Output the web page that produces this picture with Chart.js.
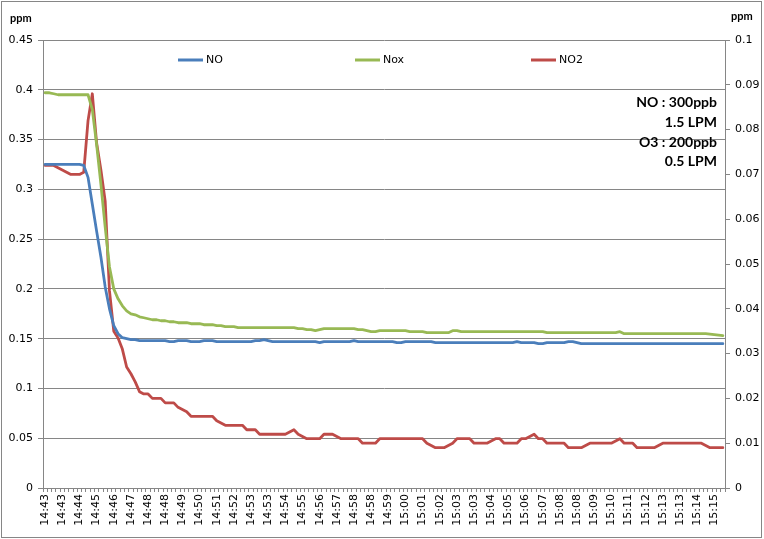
<!DOCTYPE html>
<html>
<head>
<meta charset="utf-8">
<script src="https://cdn.jsdelivr.net/npm/chart.js"></script>
<style>
body { margin: 0; background: #fff; }
#wrap { width: 764px; height: 539px; }
</style>
</head>
<body>
<div id="wrap"><canvas id="chart1" width="764" height="539"></canvas></div>
<script>
// labels shown on the time axis, one every 4 samples
var tickLabels = ['14:43','14:43','14:44','14:45','14:46','14:47','14:48','14:48','14:49','14:50',
  '14:51','14:52','14:53','14:53','14:54','14:55','14:56','14:57','14:58','14:58',
  '14:59','15:00','15:01','15:02','15:03','15:03','15:04','15:05','15:06','15:07',
  '15:08','15:08','15:09','15:10','15:11','15:12','15:13','15:13','15:14','15:15'];

var noValues = [
  0.325,0.325,0.325,0.325,0.325,0.325,0.325,0.325,0.325,0.324,
  0.312,0.285,0.258,0.232,0.202,0.180,0.163,0.155,0.151,0.150,
  0.149,0.149,0.148,0.148,0.148,0.148,0.148,0.148,0.148,0.147,
  0.147,0.148,0.148,0.148,0.147,0.147,0.147,0.148,0.148,0.148,
  0.147,0.147,0.147,0.147,0.147,0.147,0.147,0.147,0.147,0.148,
  0.148,0.149,0.148,0.147,0.147,0.147,0.147,0.147,0.147,0.147,
  0.147,0.147,0.147,0.147,0.146,0.147,0.147,0.147,0.147,0.147,
  0.147,0.147,0.148,0.147,0.147,0.147,0.147,0.147,0.147,0.147,
  0.147,0.147,0.146,0.146,0.147,0.147,0.147,0.147,0.147,0.147,
  0.147,0.146,0.146,0.146,0.146,0.146,0.146,0.146,0.146,0.146,
  0.146,0.146,0.146,0.146,0.146,0.146,0.146,0.146,0.146,0.146,
  0.147,0.146,0.146,0.146,0.146,0.145,0.145,0.146,0.146,0.146,
  0.146,0.146,0.147,0.147,0.146,0.145,0.145,0.145,0.145,0.145,
  0.145,0.145,0.145,0.145,0.145,0.145,0.145,0.145,0.145,0.145,
  0.145,0.145,0.145,0.145,0.145,0.145,0.145,0.145,0.145,0.145,
  0.145,0.145,0.145,0.145,0.145,0.145,0.145,0.145,0.145];

var noxValues = [
  0.397,0.397,0.396,0.395,0.395,0.395,0.395,0.395,0.395,0.395,
  0.395,0.380,0.345,0.305,0.262,0.222,0.200,0.190,0.183,0.178,
  0.175,0.174,0.172,0.171,0.170,0.169,0.169,0.168,0.168,0.167,
  0.167,0.166,0.166,0.166,0.165,0.165,0.165,0.164,0.164,0.164,
  0.163,0.163,0.162,0.162,0.162,0.161,0.161,0.161,0.161,0.161,
  0.161,0.161,0.161,0.161,0.161,0.161,0.161,0.161,0.161,0.160,
  0.160,0.159,0.159,0.158,0.159,0.160,0.160,0.160,0.160,0.160,
  0.160,0.160,0.160,0.159,0.159,0.158,0.157,0.157,0.158,0.158,
  0.158,0.158,0.158,0.158,0.158,0.157,0.157,0.157,0.157,0.156,
  0.156,0.156,0.156,0.156,0.156,0.158,0.158,0.157,0.157,0.157,
  0.157,0.157,0.157,0.157,0.157,0.157,0.157,0.157,0.157,0.157,
  0.157,0.157,0.157,0.157,0.157,0.157,0.157,0.156,0.156,0.156,
  0.156,0.156,0.156,0.156,0.156,0.156,0.156,0.156,0.156,0.156,
  0.156,0.156,0.156,0.156,0.157,0.155,0.155,0.155,0.155,0.155,
  0.155,0.155,0.155,0.155,0.155,0.155,0.155,0.155,0.155,0.155,
  0.155,0.155,0.155,0.155,0.155,0.1545,0.154,0.1535,0.153];

// NO2 is read on the right hand axis
var no2Values = [
  0.072,0.072,0.072,0.0715,0.071,0.0705,0.070,0.070,0.070,0.0705,
  0.082,0.088,0.077,0.071,0.064,0.044,0.035,0.0335,0.031,0.027,
  0.0255,0.0237,0.0215,0.021,0.021,0.020,0.020,0.020,0.019,0.019,
  0.019,0.018,0.0175,0.017,0.016,0.016,0.016,0.016,0.016,0.016,
  0.015,0.0145,0.014,0.014,0.014,0.014,0.014,0.013,0.013,0.013,
  0.012,0.012,0.012,0.012,0.012,0.012,0.012,0.0125,0.013,0.012,
  0.0115,0.011,0.011,0.011,0.011,0.012,0.012,0.012,0.0115,0.011,
  0.011,0.011,0.011,0.011,0.010,0.010,0.010,0.010,0.011,0.011,
  0.011,0.011,0.011,0.011,0.011,0.011,0.011,0.011,0.011,0.010,
  0.0095,0.009,0.009,0.009,0.0095,0.010,0.011,0.011,0.011,0.011,
  0.010,0.010,0.010,0.010,0.0105,0.011,0.011,0.010,0.010,0.010,
  0.010,0.011,0.011,0.0115,0.012,0.011,0.011,0.010,0.010,0.010,
  0.010,0.010,0.009,0.009,0.009,0.009,0.0095,0.010,0.010,0.010,
  0.010,0.010,0.010,0.0105,0.011,0.010,0.010,0.010,0.009,0.009,
  0.009,0.009,0.009,0.0095,0.010,0.010,0.010,0.010,0.010,0.010,
  0.010,0.010,0.010,0.010,0.0095,0.009,0.009,0.009,0.009];

var seriesNames = ['NO', 'Nox', 'NO2'];
var noteLines = ['NO : 300ppb', '1.5 LPM', 'O3 : 200ppb', '0.5 LPM'];

var categories = [];
for (var i = 0; i < noValues.length; i++) {
  categories.push(i % 4 == 0 ? tickLabels[i / 4] : '');
}

var gridColor = '#868686';
var tickFont = { family: 'DejaVu Sans', size: 11 };

var extras = {
  id: 'extras',
  afterDraw: function (chart) {
    var ctx = chart.ctx;
    ctx.save();
    // outer border
    ctx.strokeStyle = gridColor;
    ctx.lineWidth = 1;
    ctx.strokeRect(1.5, 1.5, 760, 536);
    // axis units
    ctx.fillStyle = '#000';
    ctx.font = 'bold 11px Lato';
    ctx.textBaseline = 'middle';
    ctx.textAlign = 'left';
    ctx.fillText('ppm', 10, 18);
    ctx.fillText('ppm', 731, 16);
    // legend
    var legendX = [178, 355, 531];
    chart.data.datasets.forEach(function (ds, k) {
      ctx.strokeStyle = ds.borderColor;
      ctx.lineWidth = 3;
      ctx.beginPath();
      ctx.moveTo(legendX[k], 60);
      ctx.lineTo(legendX[k] + 25, 60);
      ctx.stroke();
      ctx.font = '11px DejaVu Sans';
      ctx.fillText(ds.label, legendX[k] + 28, 60);
    });
    // test conditions
    ctx.font = 'bold 14px Lato';
    ctx.textAlign = 'right';
    var ys = [102, 122, 142, 161];
    noteLines.forEach(function (t, k) {
      ctx.fillText(t, 717, ys[k]);
    });
    ctx.restore();
  }
};

var ch1 = document.getElementById('chart1').getContext('2d');
var chart1 = new Chart(ch1, {
  type: 'line',
  data: {
    labels: categories,
    datasets: [
      { label: seriesNames[0], data: noValues, borderColor: '#4A7EBB', yAxisID: 'y' },
      { label: seriesNames[1], data: noxValues, borderColor: '#98B954', yAxisID: 'y' },
      { label: seriesNames[2], data: no2Values, borderColor: '#BE4B48', yAxisID: 'y1' }
    ]
  },
  options: {
    responsive: false,
    animation: false,
    layout: { padding: { top: 40, left: 0, right: 0, bottom: 0 } },
    elements: {
      point: { radius: 0 },
      line: { borderWidth: 2.8, tension: 0, borderJoinStyle: 'round', borderCapStyle: 'round' }
    },
    plugins: { legend: { display: false }, tooltip: { enabled: false } },
    scales: {
      x: {
        offset: true,
        grid: { display: true, drawOnChartArea: false, offset: true, tickLength: 4, color: gridColor },
        border: { color: gridColor },
        ticks: { autoSkip: false, maxRotation: 90, minRotation: 90, padding: 2, color: '#000', font: tickFont },
        afterFit: function (s) { s.height = 51; }
      },
      y: {
        position: 'left',
        min: 0, max: 0.45,
        grid: { color: gridColor, tickLength: 5 },
        border: { color: gridColor },
        ticks: { stepSize: 0.05, padding: 5, color: '#000', font: tickFont,
          callback: function (v) { return String(+v.toFixed(2)); } },
        afterFit: function (s) { s.width = 43; }
      },
      y1: {
        position: 'right',
        min: 0, max: 0.1,
        grid: { drawOnChartArea: false, color: gridColor, tickLength: 5 },
        border: { color: gridColor },
        ticks: { stepSize: 0.01, padding: 5, color: '#000', font: tickFont,
          callback: function (v) { return String(+v.toFixed(2)); } },
        afterFit: function (s) { s.width = 39; }
      }
    }
  },
  plugins: [extras]
});
</script>
</body>
</html>
